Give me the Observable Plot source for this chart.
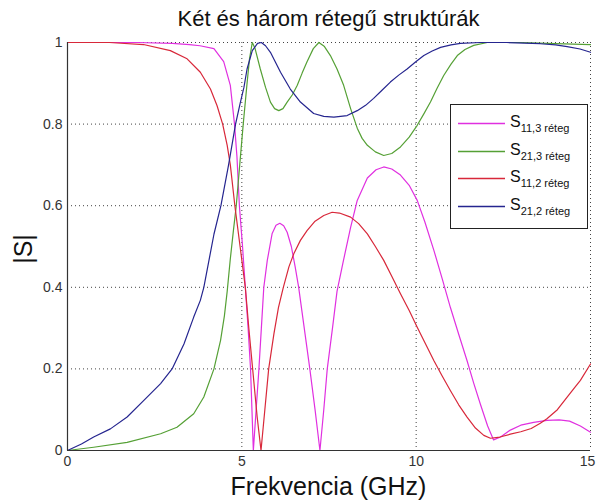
<!DOCTYPE html>
<html>
<head>
<meta charset="utf-8">
<script src="https://cdn.jsdelivr.net/npm/d3@7"></script>
<script src="https://cdn.jsdelivr.net/npm/@observablehq/plot@0.6"></script>
<style>
  body { margin: 0; background: white; }
  #wrap { position: relative; width: 596px; height: 504px; background: white; font-family: "Liberation Sans", Arial, sans-serif; color: #111; }
  #title { position: absolute; left: 67px; width: 523px; top: 6px; text-align: center; font-size: 22px; }
  #xlabel { position: absolute; left: 67px; width: 523px; top: 472px; text-align: center; font-size: 25px; line-height: 29px; }
  #ylabel { position: absolute; left: 23px; top: 249px; transform: translate(-50%, -50%) rotate(-90deg); font-size: 25px; white-space: nowrap; }
  #legend { position: absolute; left: 450px; top: 104px; width: 136px; height: 123px; border: 1px solid #222; background: white; }
  .row { position: absolute; left: 7px; height: 20px; width: 128px; }
  .row svg { position: absolute; left: 0; top: 0; }
  .row .tx { position: absolute; left: 52px; top: 0; white-space: nowrap; font-size: 16px; }
  .row .tx sub { font-size: 11px; vertical-align: -5px; }
</style>
</head>
<body>
<div id="wrap">
  <div id="chart"></div>
  <div id="title"></div>
  <div id="xlabel"></div>
  <div id="ylabel"></div>
  <div id="legend"></div>
</div>
<script>
const titleText = "Két és három rétegű struktúrák";
const xLabelText = "Frekvencia (GHz)";
const yLabelText = "|S|";
const xTicks = [0, 5, 10, 15];
const yTicks = [0, 0.2, 0.4, 0.6, 0.8, 1];
const xGrid = [5, 10, 15];
const yGrid = [0.2, 0.4, 0.6, 0.8, 1];

const seriesNames = ["S11,3 réteg", "S21,3 réteg", "S11,2 réteg", "S21,2 réteg"];
const seriesSub = ["11,3 réteg", "21,3 réteg", "11,2 réteg", "21,2 réteg"];
const seriesColors = ["#e030e0", "#55a035", "#d8283a", "#25258f"];

// [frequency GHz, |S|]
const s11_3 = [
  [0,1],[1,1],[2,1],[3,0.998],[3.5,0.995],[3.8,0.992],[4.2,0.985],[4.48,0.953],[4.67,0.895],
  [4.79,0.8],[4.86,0.72],[4.93,0.6],[5.02,0.5],[5.1,0.4],[5.18,0.3],[5.25,0.2],[5.29,0.1],[5.33,0],
  [5.41,0.1],[5.49,0.2],[5.56,0.3],[5.63,0.4],[5.73,0.466],[5.87,0.532],[5.98,0.552],[6.09,0.557],
  [6.2,0.551],[6.3,0.535],[6.42,0.5],[6.53,0.45],[6.63,0.4],[6.79,0.3],[6.95,0.2],[7.1,0.1],[7.24,0],
  [7.35,0.1],[7.45,0.2],[7.6,0.3],[7.73,0.39],[7.9,0.46],[8.12,0.547],[8.31,0.613],[8.6,0.668],
  [8.85,0.688],[9.07,0.695],[9.3,0.69],[9.55,0.675],[9.8,0.65],[10.03,0.613],[10.25,0.56],[10.51,0.49],
  [10.75,0.42],[10.98,0.351],[11.22,0.285],[11.46,0.22],[11.65,0.165],[11.84,0.114],[12.05,0.06],
  [12.22,0.026],[12.42,0.033],[12.7,0.05],[13.0,0.062],[13.37,0.069],[13.75,0.074],[14.1,0.075],
  [14.4,0.072],[14.71,0.06],[15,0.045]
];
const s21_3 = [
  [0,0],[0.75,0.008],[1.71,0.02],[2.67,0.041],[3.14,0.057],[3.62,0.09],[3.91,0.131],[4.2,0.2],
  [4.39,0.27],[4.5,0.33],[4.58,0.39],[4.67,0.47],[4.76,0.54],[4.84,0.6],[4.94,0.7],[5.04,0.8],
  [5.15,0.9],[5.22,0.96],[5.3,1.0],[5.38,0.985],[5.53,0.935],[5.68,0.89],[5.82,0.854],[5.94,0.838],
  [6.06,0.833],[6.18,0.838],[6.3,0.854],[6.45,0.872],[6.59,0.895],[6.73,0.925],[6.87,0.953],
  [7.05,0.985],[7.21,1.0],[7.37,0.99],[7.54,0.968],[7.73,0.935],[7.92,0.895],[8.12,0.838],
  [8.31,0.79],[8.45,0.765],[8.6,0.748],[8.83,0.732],[9.07,0.723],[9.3,0.728],[9.55,0.744],
  [9.8,0.768],[10.03,0.797],[10.22,0.825],[10.41,0.854],[10.6,0.888],[10.79,0.919],[11.0,0.947],
  [11.18,0.968],[11.4,0.983],[11.65,0.993],[12.04,1.0],[13,1.0],[14,0.997],[15,0.995]
];
const s11_2 = [
  [0,1],[1.2,1],[2.18,0.995],[2.95,0.98],[3.43,0.96],[3.81,0.927],[4.1,0.886],[4.29,0.845],
  [4.45,0.8],[4.58,0.748],[4.67,0.7],[4.8,0.6],[4.95,0.5],[5.1,0.4],[5.2,0.3],[5.31,0.2],[5.44,0.082],
  [5.55,0],[5.66,0.1],[5.77,0.2],[5.92,0.286],[6.05,0.35],[6.19,0.4],[6.35,0.45],[6.49,0.482],
  [6.68,0.515],[6.87,0.539],[7.1,0.562],[7.35,0.576],[7.59,0.584],[7.8,0.582],[8.12,0.572],
  [8.35,0.556],[8.6,0.531],[8.83,0.5],[9.07,0.466],[9.3,0.427],[9.55,0.384],[9.8,0.343],
  [10.03,0.302],[10.27,0.261],[10.51,0.22],[10.75,0.182],[10.98,0.147],[11.22,0.112],[11.46,0.082],
  [11.7,0.055],[11.94,0.037],[12.13,0.03],[12.4,0.033],[12.7,0.04],[13.0,0.046],[13.3,0.054],
  [13.56,0.067],[13.75,0.078],[14.05,0.1],[14.33,0.131],[14.55,0.155],[14.71,0.172],[15,0.212]
];
const s21_2 = [
  [0,0],[0.4,0.016],[0.75,0.033],[1.23,0.053],[1.71,0.082],[2.19,0.123],[2.67,0.164],[3.0,0.2],
  [3.34,0.261],[3.62,0.327],[3.81,0.368],[3.91,0.4],[4.2,0.53],[4.4,0.6],[4.62,0.7],[4.82,0.8],
  [4.95,0.85],[5.06,0.89],[5.15,0.935],[5.3,0.98],[5.45,0.998],[5.56,1.0],[5.68,0.992],[5.82,0.976],
  [6.11,0.927],[6.39,0.886],[6.68,0.854],[7.06,0.826],[7.35,0.819],[7.64,0.817],[8.02,0.821],
  [8.31,0.833],[8.55,0.846],[8.78,0.863],[9.02,0.883],[9.26,0.903],[9.5,0.92],[9.74,0.935],
  [9.98,0.952],[10.22,0.968],[10.46,0.979],[10.7,0.988],[11.0,0.994],[11.27,0.998],[11.84,1.0],
  [12.6,1.0],[13.56,0.997],[14.0,0.994],[14.33,0.99],[14.7,0.984],[15,0.976]
];

const allSeries = [s11_3, s21_3, s11_2, s21_2];
const rows = allSeries.flatMap((s, i) => s.map(([f, v]) => ({f, v, name: seriesNames[i]})));

const gridStyle = {stroke: "#222", strokeOpacity: 0.85, strokeDasharray: "1,3", strokeWidth: 1};
const lastTick = xTicks[xTicks.length - 1];

const chart = Plot.plot({
  width: 596,
  height: 504,
  marginLeft: 67,
  marginRight: 6,
  marginTop: 42,
  marginBottom: 54,
  style: {fontFamily: "'Liberation Sans', Arial, sans-serif", fontSize: "14px", color: "#333", background: "white"},
  x: {domain: [0, 15]},
  y: {domain: [0, 1]},
  color: {domain: seriesNames, range: seriesColors},
  marks: [
    Plot.gridX(xGrid, gridStyle),
    Plot.gridY(yGrid, gridStyle),
    Plot.axisX(xTicks.slice(0, -1), {tickSize: 0, tickPadding: 6, label: null, tickFormat: d => String(d)}),
    Plot.axisX([lastTick], {tickSize: 0, tickPadding: 6, label: null, dx: -3, tickFormat: d => String(d)}),
    Plot.axisY(yTicks, {tickSize: 0, tickPadding: 5, label: null, tickFormat: d => String(d)}),
    Plot.line(rows, {x: "f", y: "v", z: "name", stroke: "name", strokeWidth: 1.2, curve: "linear"}),
    Plot.ruleX([0], {stroke: "#333", strokeWidth: 1.2}),
    Plot.ruleY([0], {stroke: "#333", strokeWidth: 1.2})
  ]
});
document.getElementById("chart").appendChild(chart);

document.getElementById("title").textContent = titleText;
document.getElementById("xlabel").textContent = xLabelText;
document.getElementById("ylabel").textContent = yLabelText;

const legend = document.getElementById("legend");
seriesSub.forEach((sub, i) => {
  const row = document.createElement("div");
  row.className = "row";
  row.style.top = (8 + i * 27.5) + "px";
  row.innerHTML =
    '<svg width="48" height="20"><line x1="0" y1="10.5" x2="47" y2="10.5" stroke="' + seriesColors[i] + '" stroke-width="1.5"/></svg>' +
    '<div class="tx">S<sub>' + sub + '</sub></div>';
  legend.appendChild(row);
});
</script>
</body>
</html>
